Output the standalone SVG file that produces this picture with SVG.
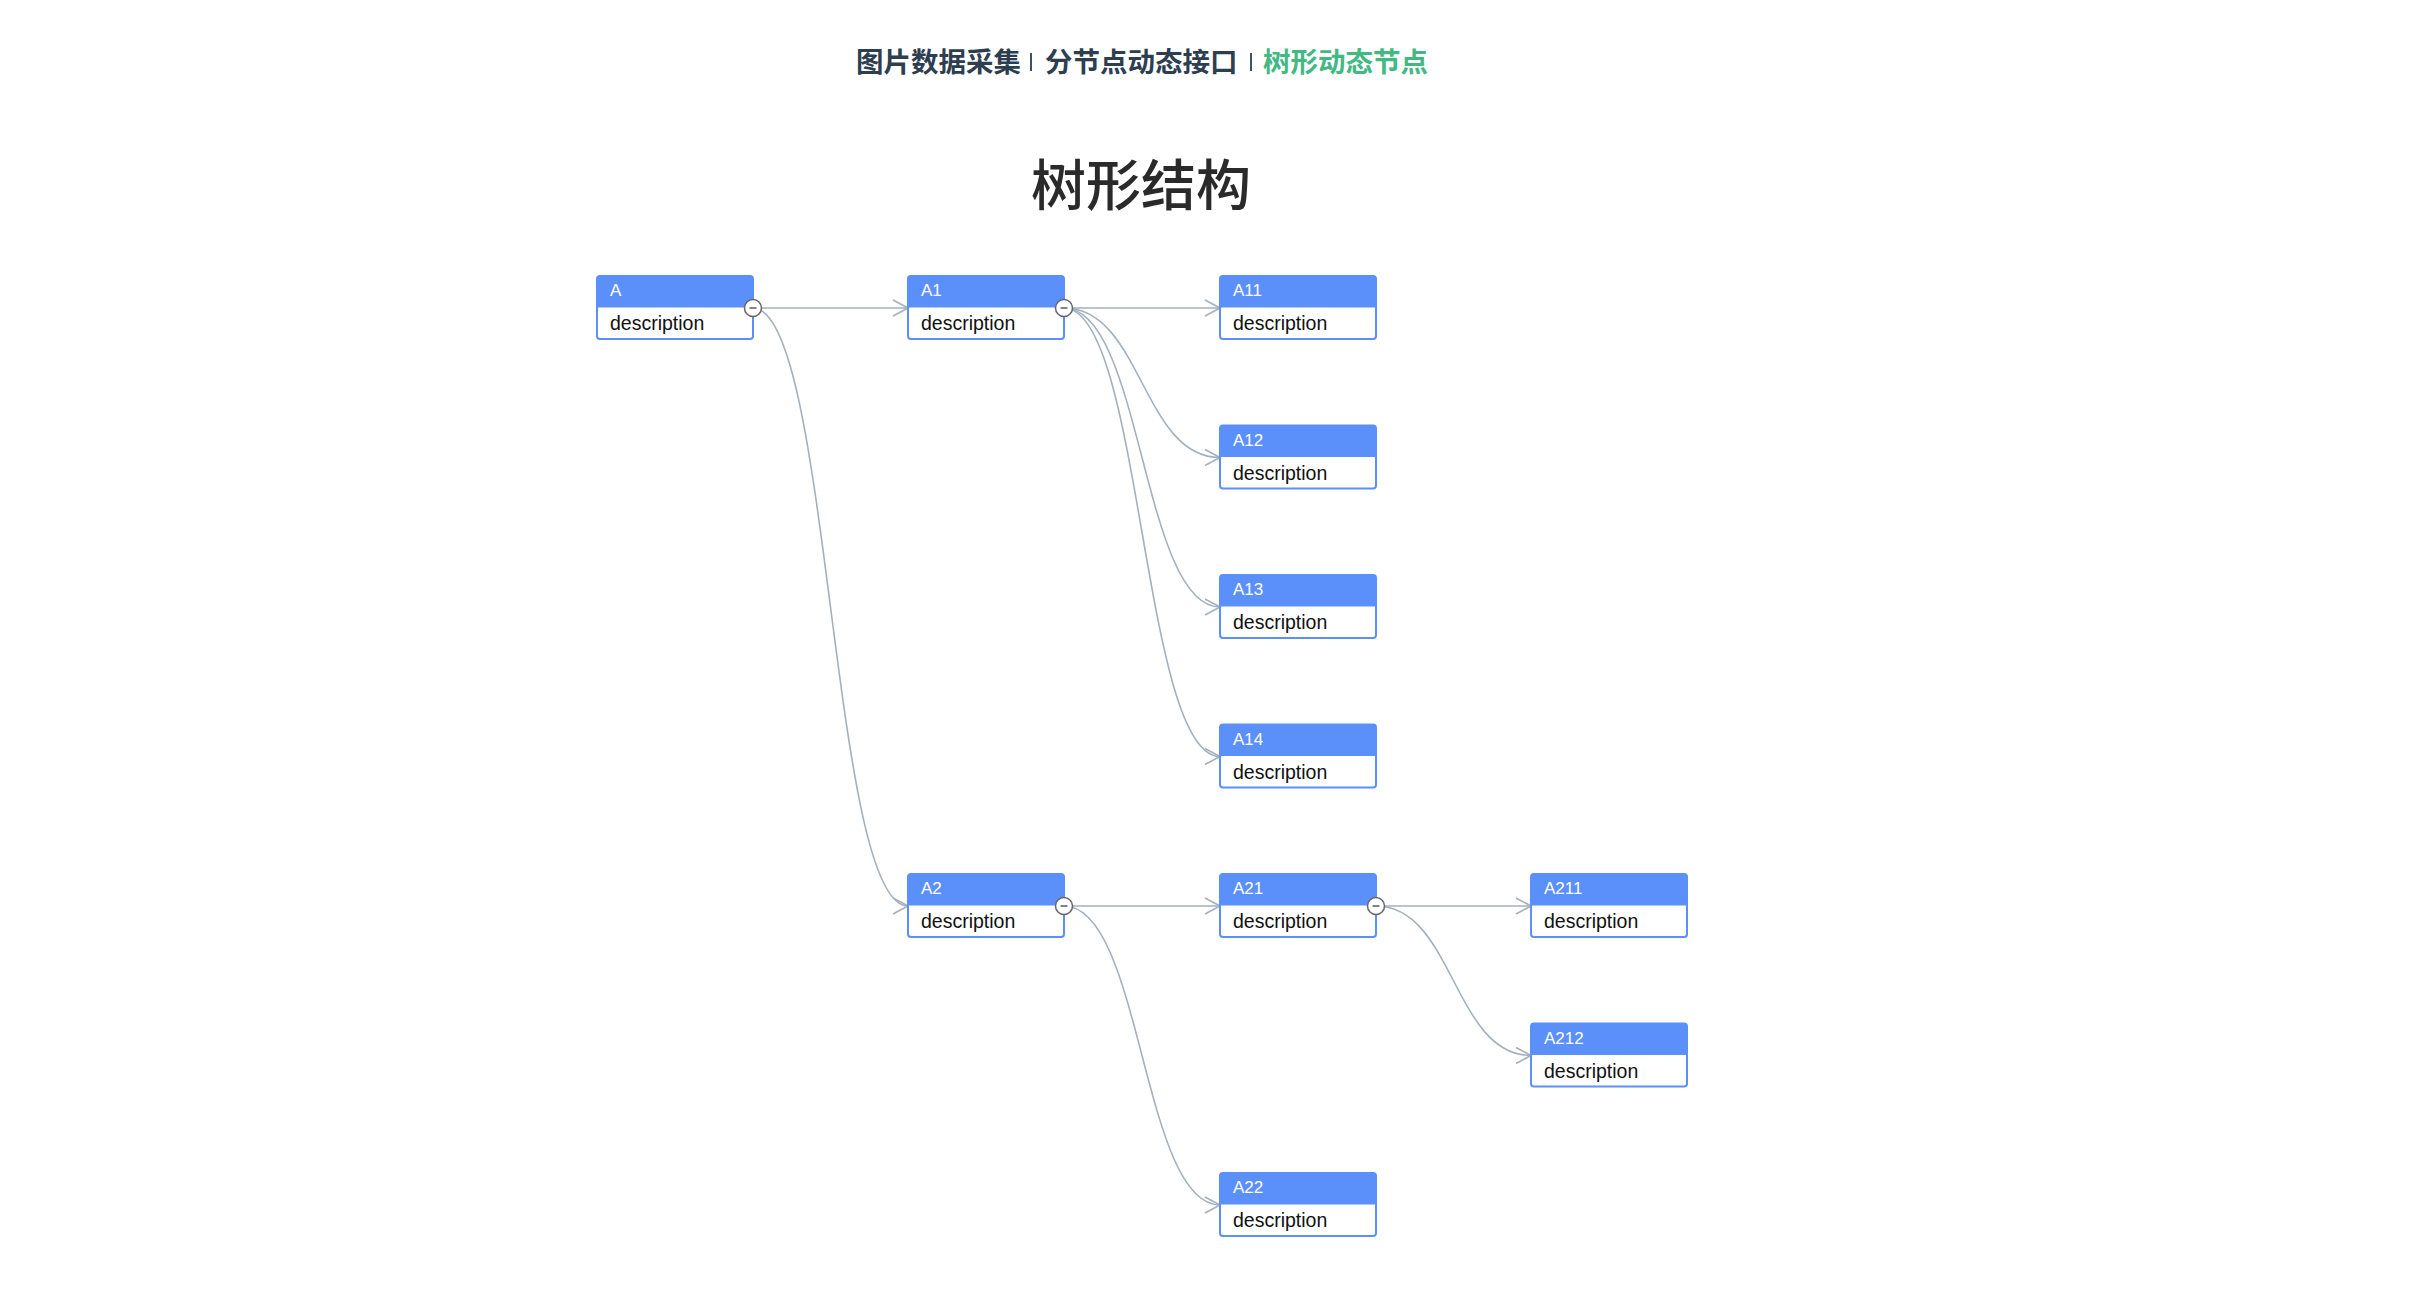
<svg xmlns="http://www.w3.org/2000/svg" width="2416" height="1300" viewBox="0 0 2416 1300">
<style>
.bg{fill:#ffffff}
.sub{font-family:"Noto Sans CJK SC","Noto Sans",sans-serif;font-size:27.5px;font-weight:700;fill:#2c3e50}
.green{fill:#42b983}
.sep{stroke:#2c3e50;stroke-width:1.8}
.heading{font-family:"Noto Sans CJK SC","Noto Sans",sans-serif;font-size:55px;font-weight:500;fill:#2a2a2a}
.body{fill:#ffffff;stroke:none}
.head{fill:#5b8ff9;stroke:none}
.frame{fill:none;stroke:#5b8ff9;stroke-width:2}
.title{font-family:"Liberation Sans",Arial,sans-serif;font-size:17px;fill:#ffffff}
.desc{font-family:"Liberation Sans",Arial,sans-serif;font-size:19.5px;fill:#111111}
.edge{fill:none;stroke:#a3b1bf;stroke-width:1.6}
.btn circle{fill:#ffffff;stroke:#666666;stroke-width:1.5}
.btn line{stroke:#666666;stroke-width:1.6}
</style>
<defs>
<marker id="arrow" markerUnits="userSpaceOnUse" markerWidth="20" markerHeight="20" viewBox="-18 -10 20 20" refX="0" refY="0" orient="auto">
<path d="M-15,-8 L0,0 L-15,8" fill="none" stroke="#a3b1bf" stroke-width="1.6"/>
</marker>
<g id="tpl-box">
<rect class="body" x="0" y="0" width="156" height="63" rx="3"/>
<path class="head" d="M0,31.5 V3 A3,3 0 0 1 3,0 H153 A3,3 0 0 1 156,3 V31.5 Z"/>
<rect class="frame" x="0" y="0" width="156" height="63" rx="3"/>
</g>
<g id="tpl-btn" class="btn">
<circle cx="0" cy="0" r="8.5"/>
<line x1="-3.5" y1="0" x2="3.5" y2="0"/>
</g>
</defs>
<rect class="bg" x="0" y="0" width="2416" height="1300"/>

<g id="header">
<text class="sub" x="856" y="72">图片数据采集</text>
<line class="sep" x1="1031" y1="53" x2="1031" y2="71"/>
<text class="sub" x="1045" y="72">分节点动态接口</text>
<line class="sep" x1="1251" y1="53" x2="1251" y2="71"/>
<text class="sub green" x="1263" y="72">树形动态节点</text>
<text class="heading" x="1141" y="205" text-anchor="middle">树形结构</text>
</g>

<g id="connectors">
<path class="edge" marker-end="url(#arrow)" d="M753,308 L908,308"/>
<path class="edge" marker-end="url(#arrow)" d="M753,308 C830.5,308 830.5,906 908,906"/>
<path class="edge" marker-end="url(#arrow)" d="M1064,308 L1220,308"/>
<path class="edge" marker-end="url(#arrow)" d="M1064,308 C1142,308 1142,457.5 1220,457.5"/>
<path class="edge" marker-end="url(#arrow)" d="M1064,308 C1142,308 1142,607 1220,607"/>
<path class="edge" marker-end="url(#arrow)" d="M1064,308 C1142,308 1142,756.5 1220,756.5"/>
<path class="edge" marker-end="url(#arrow)" d="M1064,906 L1220,906"/>
<path class="edge" marker-end="url(#arrow)" d="M1064,906 C1142,906 1142,1205 1220,1205"/>
<path class="edge" marker-end="url(#arrow)" d="M1376,906 L1531,906"/>
<path class="edge" marker-end="url(#arrow)" d="M1376,906 C1453.5,906 1453.5,1055.5 1531,1055.5"/>
</g>

<g id="node-A" transform="translate(597,276)">
<use href="#tpl-box"/>
<text class="title" x="13" y="20">A</text>
<text class="desc" x="13" y="54">description</text>
<use href="#tpl-btn" x="156" y="32"/>
</g>
<g id="node-A1" transform="translate(908,276)">
<use href="#tpl-box"/>
<text class="title" x="13" y="20">A1</text>
<text class="desc" x="13" y="54">description</text>
<use href="#tpl-btn" x="156" y="32"/>
</g>
<g id="node-A11" transform="translate(1220,276)">
<use href="#tpl-box"/>
<text class="title" x="13" y="20">A11</text>
<text class="desc" x="13" y="54">description</text>
</g>
<g id="node-A12" transform="translate(1220,425.5)">
<use href="#tpl-box"/>
<text class="title" x="13" y="20">A12</text>
<text class="desc" x="13" y="54">description</text>
</g>
<g id="node-A13" transform="translate(1220,575)">
<use href="#tpl-box"/>
<text class="title" x="13" y="20">A13</text>
<text class="desc" x="13" y="54">description</text>
</g>
<g id="node-A14" transform="translate(1220,724.5)">
<use href="#tpl-box"/>
<text class="title" x="13" y="20">A14</text>
<text class="desc" x="13" y="54">description</text>
</g>
<g id="node-A2" transform="translate(908,874)">
<use href="#tpl-box"/>
<text class="title" x="13" y="20">A2</text>
<text class="desc" x="13" y="54">description</text>
<use href="#tpl-btn" x="156" y="32"/>
</g>
<g id="node-A21" transform="translate(1220,874)">
<use href="#tpl-box"/>
<text class="title" x="13" y="20">A21</text>
<text class="desc" x="13" y="54">description</text>
<use href="#tpl-btn" x="156" y="32"/>
</g>
<g id="node-A22" transform="translate(1220,1173)">
<use href="#tpl-box"/>
<text class="title" x="13" y="20">A22</text>
<text class="desc" x="13" y="54">description</text>
</g>
<g id="node-A211" transform="translate(1531,874)">
<use href="#tpl-box"/>
<text class="title" x="13" y="20">A211</text>
<text class="desc" x="13" y="54">description</text>
</g>
<g id="node-A212" transform="translate(1531,1023.5)">
<use href="#tpl-box"/>
<text class="title" x="13" y="20">A212</text>
<text class="desc" x="13" y="54">description</text>
</g>
</svg>
